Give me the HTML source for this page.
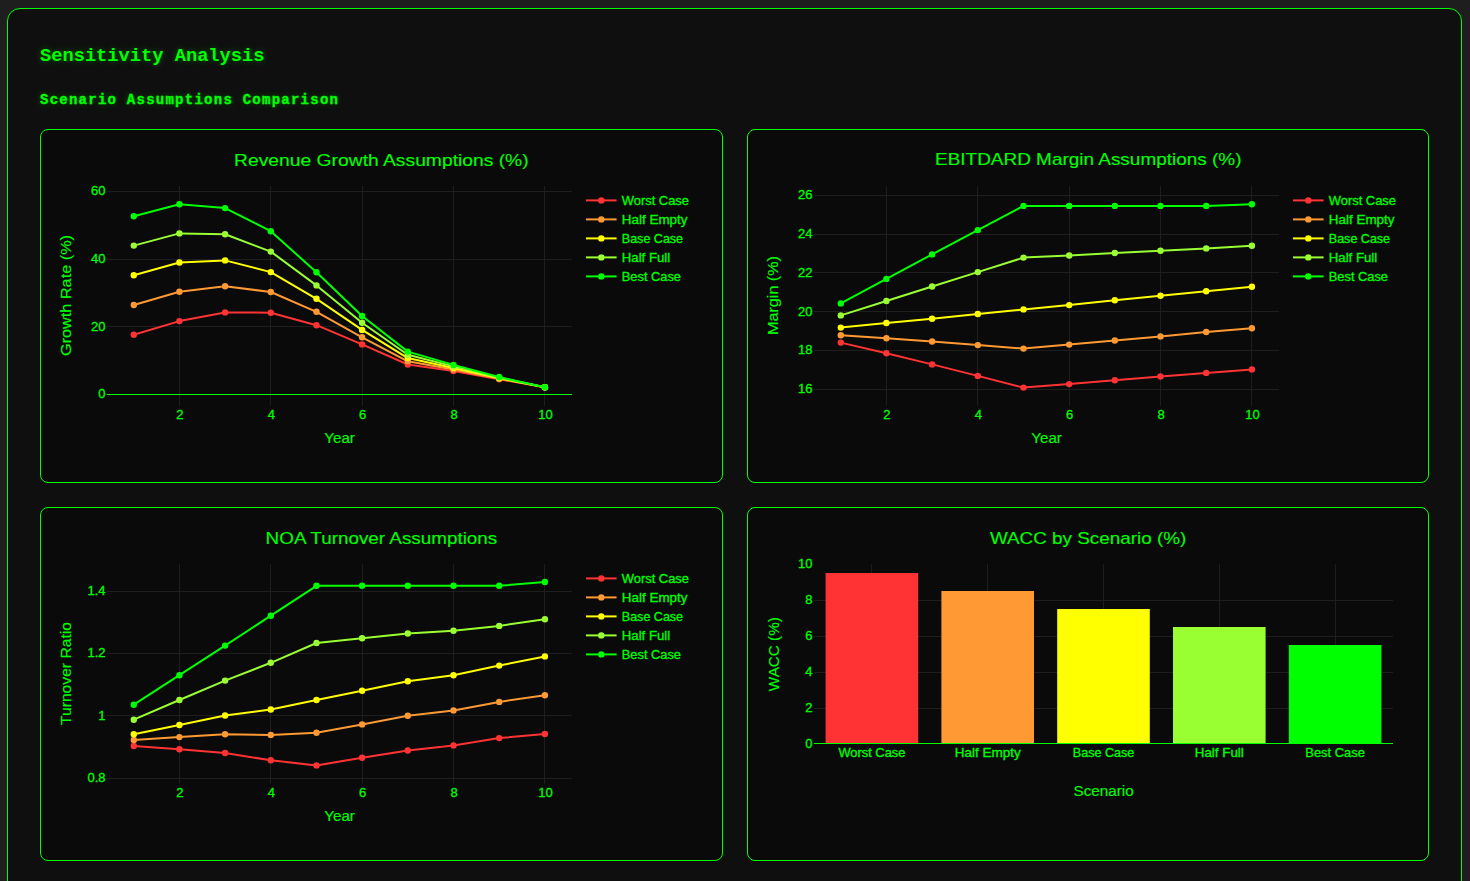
<!DOCTYPE html>
<html><head><meta charset="utf-8"><title>Sensitivity Analysis</title>
<style>
html,body{margin:0;padding:0;width:1470px;height:881px;overflow:hidden;background:#1e1e1e;}
.wrap{position:absolute;left:7px;top:8px;width:1453px;height:1000px;border:1px solid #00ff00;border-radius:13px;background:#0f0f0f;}
.card{position:absolute;border:1px solid #00ff00;border-radius:8px;background:#0a0a0a;width:681px;height:352px;}
svg text{stroke:#00ff00;stroke-width:0.3px;}
svg text[font-size="14"],svg text[font-size="17"]{stroke-width:0.12px;}
h1,h2{position:absolute;margin:0;font-family:'Liberation Mono',monospace;font-weight:bold;color:#00ff00;text-shadow:0 0 6px rgba(0,255,0,0.35);white-space:nowrap;}
h1{left:40px;top:44px;font-size:18.72px;line-height:24px;}
h2{left:40px;top:90px;font-size:14px;letter-spacing:1.25px;line-height:20px;-webkit-text-stroke:0.35px #00ff00;}
</style></head><body>
<div class="wrap"></div>
<h1>Sensitivity Analysis</h1>
<h2>Scenario Assumptions Comparison</h2>
<div class="card" style="left:40px;top:129px"></div>
<div class="card" style="left:747px;top:129px;width:680px"></div>
<div class="card" style="left:40px;top:507px"></div>
<div class="card" style="left:747px;top:507px;width:680px"></div>
<svg width="1470" height="881" viewBox="0 0 1470 881" style="position:absolute;left:0;top:0" fill="#00ff00">
<g style="font-family:'Liberation Sans',sans-serif" fill="#00ff00">
<text x="234.1" y="165.7" font-size="17" text-anchor="start" textLength="294.6" lengthAdjust="spacingAndGlyphs">Revenue Growth Assumptions (%)</text>
<text x="935.0" y="165.4" font-size="17" text-anchor="start" textLength="306.5" lengthAdjust="spacingAndGlyphs">EBITDARD Margin Assumptions (%)</text>
<text x="265.6" y="543.6" font-size="17" text-anchor="start" textLength="231.7" lengthAdjust="spacingAndGlyphs">NOA Turnover Assumptions</text>
<text x="989.9" y="543.6" font-size="17" text-anchor="start" textLength="196.4" lengthAdjust="spacingAndGlyphs">WACC by Scenario (%)</text>
<line x1="179.5" y1="186" x2="179.5" y2="406" stroke="#1e1e1e" stroke-width="1"/>
<line x1="270.5" y1="186" x2="270.5" y2="406" stroke="#1e1e1e" stroke-width="1"/>
<line x1="362.5" y1="186" x2="362.5" y2="406" stroke="#1e1e1e" stroke-width="1"/>
<line x1="453.5" y1="186" x2="453.5" y2="406" stroke="#1e1e1e" stroke-width="1"/>
<line x1="544.5" y1="186" x2="544.5" y2="406" stroke="#1e1e1e" stroke-width="1"/>
<line x1="107" y1="191.5" x2="572" y2="191.5" stroke="#1e1e1e" stroke-width="1"/>
<line x1="107" y1="259.5" x2="572" y2="259.5" stroke="#1e1e1e" stroke-width="1"/>
<line x1="107" y1="326.5" x2="572" y2="326.5" stroke="#1e1e1e" stroke-width="1"/>
<line x1="107" y1="394.5" x2="572" y2="394.5" stroke="#00ff00" stroke-width="1"/>
<polyline points="133.8,334.7 179.4,321.1 225.1,312.4 270.8,312.7 316.5,325.2 362.1,344.4 407.8,364.5 453.5,371.0 499.2,379.3 544.9,387.2" fill="none" stroke="#ff3333" stroke-width="2" stroke-linejoin="round"/>
<circle cx="133.8" cy="334.7" r="3.2" fill="#ff3333"/>
<circle cx="179.4" cy="321.1" r="3.2" fill="#ff3333"/>
<circle cx="225.1" cy="312.4" r="3.2" fill="#ff3333"/>
<circle cx="270.8" cy="312.7" r="3.2" fill="#ff3333"/>
<circle cx="316.5" cy="325.2" r="3.2" fill="#ff3333"/>
<circle cx="362.1" cy="344.4" r="3.2" fill="#ff3333"/>
<circle cx="407.8" cy="364.5" r="3.2" fill="#ff3333"/>
<circle cx="453.5" cy="371.0" r="3.2" fill="#ff3333"/>
<circle cx="499.2" cy="379.3" r="3.2" fill="#ff3333"/>
<circle cx="544.9" cy="387.2" r="3.2" fill="#ff3333"/>
<polyline points="133.8,305.0 179.4,291.7 225.1,286.2 270.8,292.0 316.5,311.8 362.1,337.3 407.8,361.3 453.5,369.5 499.2,378.7 544.9,387.2" fill="none" stroke="#ff9933" stroke-width="2" stroke-linejoin="round"/>
<circle cx="133.8" cy="305.0" r="3.2" fill="#ff9933"/>
<circle cx="179.4" cy="291.7" r="3.2" fill="#ff9933"/>
<circle cx="225.1" cy="286.2" r="3.2" fill="#ff9933"/>
<circle cx="270.8" cy="292.0" r="3.2" fill="#ff9933"/>
<circle cx="316.5" cy="311.8" r="3.2" fill="#ff9933"/>
<circle cx="362.1" cy="337.3" r="3.2" fill="#ff9933"/>
<circle cx="407.8" cy="361.3" r="3.2" fill="#ff9933"/>
<circle cx="453.5" cy="369.5" r="3.2" fill="#ff9933"/>
<circle cx="499.2" cy="378.7" r="3.2" fill="#ff9933"/>
<circle cx="544.9" cy="387.2" r="3.2" fill="#ff9933"/>
<polyline points="133.8,275.3 179.4,262.5 225.1,260.4 270.8,272.1 316.5,298.8 362.1,329.9 407.8,358.1 453.5,367.9 499.2,378.1 544.9,387.2" fill="none" stroke="#ffff00" stroke-width="2" stroke-linejoin="round"/>
<circle cx="133.8" cy="275.3" r="3.2" fill="#ffff00"/>
<circle cx="179.4" cy="262.5" r="3.2" fill="#ffff00"/>
<circle cx="225.1" cy="260.4" r="3.2" fill="#ffff00"/>
<circle cx="270.8" cy="272.1" r="3.2" fill="#ffff00"/>
<circle cx="316.5" cy="298.8" r="3.2" fill="#ffff00"/>
<circle cx="362.1" cy="329.9" r="3.2" fill="#ffff00"/>
<circle cx="407.8" cy="358.1" r="3.2" fill="#ffff00"/>
<circle cx="453.5" cy="367.9" r="3.2" fill="#ffff00"/>
<circle cx="499.2" cy="378.1" r="3.2" fill="#ffff00"/>
<circle cx="544.9" cy="387.2" r="3.2" fill="#ffff00"/>
<polyline points="133.8,245.6 179.4,233.4 225.1,234.2 270.8,251.6 316.5,285.4 362.1,322.8 407.8,354.8 453.5,366.4 499.2,377.6 544.9,387.2" fill="none" stroke="#99ff33" stroke-width="2" stroke-linejoin="round"/>
<circle cx="133.8" cy="245.6" r="3.2" fill="#99ff33"/>
<circle cx="179.4" cy="233.4" r="3.2" fill="#99ff33"/>
<circle cx="225.1" cy="234.2" r="3.2" fill="#99ff33"/>
<circle cx="270.8" cy="251.6" r="3.2" fill="#99ff33"/>
<circle cx="316.5" cy="285.4" r="3.2" fill="#99ff33"/>
<circle cx="362.1" cy="322.8" r="3.2" fill="#99ff33"/>
<circle cx="407.8" cy="354.8" r="3.2" fill="#99ff33"/>
<circle cx="453.5" cy="366.4" r="3.2" fill="#99ff33"/>
<circle cx="499.2" cy="377.6" r="3.2" fill="#99ff33"/>
<circle cx="544.9" cy="387.2" r="3.2" fill="#99ff33"/>
<polyline points="133.8,216.2 179.4,204.2 225.1,208.1 270.8,231.2 316.5,272.3 362.1,316.0 407.8,351.6 453.5,364.9 499.2,377.0 544.9,387.2" fill="none" stroke="#00ff00" stroke-width="2" stroke-linejoin="round"/>
<circle cx="133.8" cy="216.2" r="3.2" fill="#00ff00"/>
<circle cx="179.4" cy="204.2" r="3.2" fill="#00ff00"/>
<circle cx="225.1" cy="208.1" r="3.2" fill="#00ff00"/>
<circle cx="270.8" cy="231.2" r="3.2" fill="#00ff00"/>
<circle cx="316.5" cy="272.3" r="3.2" fill="#00ff00"/>
<circle cx="362.1" cy="316.0" r="3.2" fill="#00ff00"/>
<circle cx="407.8" cy="351.6" r="3.2" fill="#00ff00"/>
<circle cx="453.5" cy="364.9" r="3.2" fill="#00ff00"/>
<circle cx="499.2" cy="377.0" r="3.2" fill="#00ff00"/>
<circle cx="544.9" cy="387.2" r="3.2" fill="#00ff00"/>
<text x="105.5" y="195.3" font-size="13" text-anchor="end">60</text>
<text x="105.5" y="263.0" font-size="13" text-anchor="end">40</text>
<text x="105.5" y="330.7" font-size="13" text-anchor="end">20</text>
<text x="105.5" y="398.3" font-size="13" text-anchor="end">0</text>
<text x="179.9" y="419.0" font-size="13" text-anchor="middle">2</text>
<text x="271.3" y="419.0" font-size="13" text-anchor="middle">4</text>
<text x="362.6" y="419.0" font-size="13" text-anchor="middle">6</text>
<text x="454.0" y="419.0" font-size="13" text-anchor="middle">8</text>
<text x="545.4" y="419.0" font-size="13" text-anchor="middle">10</text>
<text x="339.6" y="442.9" font-size="14" text-anchor="middle" textLength="30.6" lengthAdjust="spacingAndGlyphs">Year</text>
<text transform="translate(71.4,295.5) rotate(-90)" x="0" y="0" font-size="14" text-anchor="middle" textLength="121" lengthAdjust="spacingAndGlyphs">Growth Rate (%)</text>
<line x1="586" y1="200.4" x2="616.6" y2="200.4" stroke="#ff3333" stroke-width="2"/>
<circle cx="601.3" cy="200.4" r="3.2" fill="#ff3333"/>
<text x="621.8" y="204.9" font-size="13" text-anchor="start" textLength="67.2" lengthAdjust="spacingAndGlyphs">Worst Case</text>
<line x1="586" y1="219.4" x2="616.6" y2="219.4" stroke="#ff9933" stroke-width="2"/>
<circle cx="601.3" cy="219.4" r="3.2" fill="#ff9933"/>
<text x="621.8" y="223.9" font-size="13" text-anchor="start" textLength="65.7" lengthAdjust="spacingAndGlyphs">Half Empty</text>
<line x1="586" y1="238.4" x2="616.6" y2="238.4" stroke="#ffff00" stroke-width="2"/>
<circle cx="601.3" cy="238.4" r="3.2" fill="#ffff00"/>
<text x="621.8" y="242.9" font-size="13" text-anchor="start" textLength="61.3" lengthAdjust="spacingAndGlyphs">Base Case</text>
<line x1="586" y1="257.4" x2="616.6" y2="257.4" stroke="#99ff33" stroke-width="2"/>
<circle cx="601.3" cy="257.4" r="3.2" fill="#99ff33"/>
<text x="621.8" y="261.9" font-size="13" text-anchor="start" textLength="48.4" lengthAdjust="spacingAndGlyphs">Half Full</text>
<line x1="586" y1="276.4" x2="616.6" y2="276.4" stroke="#00ff00" stroke-width="2"/>
<circle cx="601.3" cy="276.4" r="3.2" fill="#00ff00"/>
<text x="621.8" y="280.9" font-size="13" text-anchor="start" textLength="59.2" lengthAdjust="spacingAndGlyphs">Best Case</text>
<line x1="886.5" y1="186" x2="886.5" y2="406" stroke="#1e1e1e" stroke-width="1"/>
<line x1="977.5" y1="186" x2="977.5" y2="406" stroke="#1e1e1e" stroke-width="1"/>
<line x1="1069.5" y1="186" x2="1069.5" y2="406" stroke="#1e1e1e" stroke-width="1"/>
<line x1="1160.5" y1="186" x2="1160.5" y2="406" stroke="#1e1e1e" stroke-width="1"/>
<line x1="1251.5" y1="186" x2="1251.5" y2="406" stroke="#1e1e1e" stroke-width="1"/>
<line x1="814" y1="195.5" x2="1279" y2="195.5" stroke="#1e1e1e" stroke-width="1"/>
<line x1="814" y1="234.5" x2="1279" y2="234.5" stroke="#1e1e1e" stroke-width="1"/>
<line x1="814" y1="272.5" x2="1279" y2="272.5" stroke="#1e1e1e" stroke-width="1"/>
<line x1="814" y1="311.5" x2="1279" y2="311.5" stroke="#1e1e1e" stroke-width="1"/>
<line x1="814" y1="350.5" x2="1279" y2="350.5" stroke="#1e1e1e" stroke-width="1"/>
<line x1="814" y1="389.5" x2="1279" y2="389.5" stroke="#1e1e1e" stroke-width="1"/>
<polyline points="840.8,342.6 886.4,353.3 932.1,364.4 977.8,375.9 1023.5,387.6 1069.2,384.1 1114.8,380.3 1160.5,376.5 1206.2,372.9 1251.9,369.4" fill="none" stroke="#ff3333" stroke-width="2" stroke-linejoin="round"/>
<circle cx="840.8" cy="342.6" r="3.2" fill="#ff3333"/>
<circle cx="886.4" cy="353.3" r="3.2" fill="#ff3333"/>
<circle cx="932.1" cy="364.4" r="3.2" fill="#ff3333"/>
<circle cx="977.8" cy="375.9" r="3.2" fill="#ff3333"/>
<circle cx="1023.5" cy="387.6" r="3.2" fill="#ff3333"/>
<circle cx="1069.2" cy="384.1" r="3.2" fill="#ff3333"/>
<circle cx="1114.8" cy="380.3" r="3.2" fill="#ff3333"/>
<circle cx="1160.5" cy="376.5" r="3.2" fill="#ff3333"/>
<circle cx="1206.2" cy="372.9" r="3.2" fill="#ff3333"/>
<circle cx="1251.9" cy="369.4" r="3.2" fill="#ff3333"/>
<polyline points="840.8,335.3 886.4,338.3 932.1,341.5 977.8,345.1 1023.5,348.6 1069.2,344.6 1114.8,340.5 1160.5,336.4 1206.2,332.0 1251.9,328.2" fill="none" stroke="#ff9933" stroke-width="2" stroke-linejoin="round"/>
<circle cx="840.8" cy="335.3" r="3.2" fill="#ff9933"/>
<circle cx="886.4" cy="338.3" r="3.2" fill="#ff9933"/>
<circle cx="932.1" cy="341.5" r="3.2" fill="#ff9933"/>
<circle cx="977.8" cy="345.1" r="3.2" fill="#ff9933"/>
<circle cx="1023.5" cy="348.6" r="3.2" fill="#ff9933"/>
<circle cx="1069.2" cy="344.6" r="3.2" fill="#ff9933"/>
<circle cx="1114.8" cy="340.5" r="3.2" fill="#ff9933"/>
<circle cx="1160.5" cy="336.4" r="3.2" fill="#ff9933"/>
<circle cx="1206.2" cy="332.0" r="3.2" fill="#ff9933"/>
<circle cx="1251.9" cy="328.2" r="3.2" fill="#ff9933"/>
<polyline points="840.8,327.6 886.4,323.0 932.1,318.7 977.8,314.0 1023.5,309.4 1069.2,305.1 1114.8,300.2 1160.5,295.8 1206.2,291.2 1251.9,286.8" fill="none" stroke="#ffff00" stroke-width="2" stroke-linejoin="round"/>
<circle cx="840.8" cy="327.6" r="3.2" fill="#ffff00"/>
<circle cx="886.4" cy="323.0" r="3.2" fill="#ffff00"/>
<circle cx="932.1" cy="318.7" r="3.2" fill="#ffff00"/>
<circle cx="977.8" cy="314.0" r="3.2" fill="#ffff00"/>
<circle cx="1023.5" cy="309.4" r="3.2" fill="#ffff00"/>
<circle cx="1069.2" cy="305.1" r="3.2" fill="#ffff00"/>
<circle cx="1114.8" cy="300.2" r="3.2" fill="#ffff00"/>
<circle cx="1160.5" cy="295.8" r="3.2" fill="#ffff00"/>
<circle cx="1206.2" cy="291.2" r="3.2" fill="#ffff00"/>
<circle cx="1251.9" cy="286.8" r="3.2" fill="#ffff00"/>
<polyline points="840.8,315.4 886.4,301.0 932.1,286.5 977.8,272.1 1023.5,257.6 1069.2,255.5 1114.8,253.0 1160.5,250.8 1206.2,248.4 1251.9,245.7" fill="none" stroke="#99ff33" stroke-width="2" stroke-linejoin="round"/>
<circle cx="840.8" cy="315.4" r="3.2" fill="#99ff33"/>
<circle cx="886.4" cy="301.0" r="3.2" fill="#99ff33"/>
<circle cx="932.1" cy="286.5" r="3.2" fill="#99ff33"/>
<circle cx="977.8" cy="272.1" r="3.2" fill="#99ff33"/>
<circle cx="1023.5" cy="257.6" r="3.2" fill="#99ff33"/>
<circle cx="1069.2" cy="255.5" r="3.2" fill="#99ff33"/>
<circle cx="1114.8" cy="253.0" r="3.2" fill="#99ff33"/>
<circle cx="1160.5" cy="250.8" r="3.2" fill="#99ff33"/>
<circle cx="1206.2" cy="248.4" r="3.2" fill="#99ff33"/>
<circle cx="1251.9" cy="245.7" r="3.2" fill="#99ff33"/>
<polyline points="840.8,303.4 886.4,278.9 932.1,254.4 977.8,230.1 1023.5,205.9 1069.2,205.9 1114.8,205.9 1160.5,205.9 1206.2,205.9 1251.9,204.3" fill="none" stroke="#00ff00" stroke-width="2" stroke-linejoin="round"/>
<circle cx="840.8" cy="303.4" r="3.2" fill="#00ff00"/>
<circle cx="886.4" cy="278.9" r="3.2" fill="#00ff00"/>
<circle cx="932.1" cy="254.4" r="3.2" fill="#00ff00"/>
<circle cx="977.8" cy="230.1" r="3.2" fill="#00ff00"/>
<circle cx="1023.5" cy="205.9" r="3.2" fill="#00ff00"/>
<circle cx="1069.2" cy="205.9" r="3.2" fill="#00ff00"/>
<circle cx="1114.8" cy="205.9" r="3.2" fill="#00ff00"/>
<circle cx="1160.5" cy="205.9" r="3.2" fill="#00ff00"/>
<circle cx="1206.2" cy="205.9" r="3.2" fill="#00ff00"/>
<circle cx="1251.9" cy="204.3" r="3.2" fill="#00ff00"/>
<text x="812.5" y="199.2" font-size="13" text-anchor="end">26</text>
<text x="812.5" y="238.0" font-size="13" text-anchor="end">24</text>
<text x="812.5" y="276.8" font-size="13" text-anchor="end">22</text>
<text x="812.5" y="315.5" font-size="13" text-anchor="end">20</text>
<text x="812.5" y="354.3" font-size="13" text-anchor="end">18</text>
<text x="812.5" y="393.1" font-size="13" text-anchor="end">16</text>
<text x="886.9" y="419.0" font-size="13" text-anchor="middle">2</text>
<text x="978.3" y="419.0" font-size="13" text-anchor="middle">4</text>
<text x="1069.7" y="419.0" font-size="13" text-anchor="middle">6</text>
<text x="1161.0" y="419.0" font-size="13" text-anchor="middle">8</text>
<text x="1252.4" y="419.0" font-size="13" text-anchor="middle">10</text>
<text x="1046.6" y="442.9" font-size="14" text-anchor="middle" textLength="30.6" lengthAdjust="spacingAndGlyphs">Year</text>
<text transform="translate(778.4,295.5) rotate(-90)" x="0" y="0" font-size="14" text-anchor="middle" textLength="79" lengthAdjust="spacingAndGlyphs">Margin (%)</text>
<line x1="1293" y1="200.4" x2="1323.6" y2="200.4" stroke="#ff3333" stroke-width="2"/>
<circle cx="1308.3" cy="200.4" r="3.2" fill="#ff3333"/>
<text x="1328.8" y="204.9" font-size="13" text-anchor="start" textLength="67.2" lengthAdjust="spacingAndGlyphs">Worst Case</text>
<line x1="1293" y1="219.4" x2="1323.6" y2="219.4" stroke="#ff9933" stroke-width="2"/>
<circle cx="1308.3" cy="219.4" r="3.2" fill="#ff9933"/>
<text x="1328.8" y="223.9" font-size="13" text-anchor="start" textLength="65.7" lengthAdjust="spacingAndGlyphs">Half Empty</text>
<line x1="1293" y1="238.4" x2="1323.6" y2="238.4" stroke="#ffff00" stroke-width="2"/>
<circle cx="1308.3" cy="238.4" r="3.2" fill="#ffff00"/>
<text x="1328.8" y="242.9" font-size="13" text-anchor="start" textLength="61.3" lengthAdjust="spacingAndGlyphs">Base Case</text>
<line x1="1293" y1="257.4" x2="1323.6" y2="257.4" stroke="#99ff33" stroke-width="2"/>
<circle cx="1308.3" cy="257.4" r="3.2" fill="#99ff33"/>
<text x="1328.8" y="261.9" font-size="13" text-anchor="start" textLength="48.4" lengthAdjust="spacingAndGlyphs">Half Full</text>
<line x1="1293" y1="276.4" x2="1323.6" y2="276.4" stroke="#00ff00" stroke-width="2"/>
<circle cx="1308.3" cy="276.4" r="3.2" fill="#00ff00"/>
<text x="1328.8" y="280.9" font-size="13" text-anchor="start" textLength="59.2" lengthAdjust="spacingAndGlyphs">Best Case</text>
<line x1="179.5" y1="564" x2="179.5" y2="784" stroke="#1e1e1e" stroke-width="1"/>
<line x1="270.5" y1="564" x2="270.5" y2="784" stroke="#1e1e1e" stroke-width="1"/>
<line x1="362.5" y1="564" x2="362.5" y2="784" stroke="#1e1e1e" stroke-width="1"/>
<line x1="453.5" y1="564" x2="453.5" y2="784" stroke="#1e1e1e" stroke-width="1"/>
<line x1="544.5" y1="564" x2="544.5" y2="784" stroke="#1e1e1e" stroke-width="1"/>
<line x1="107" y1="591.5" x2="572" y2="591.5" stroke="#1e1e1e" stroke-width="1"/>
<line x1="107" y1="653.5" x2="572" y2="653.5" stroke="#1e1e1e" stroke-width="1"/>
<line x1="107" y1="715.5" x2="572" y2="715.5" stroke="#1e1e1e" stroke-width="1"/>
<line x1="107" y1="778.5" x2="572" y2="778.5" stroke="#1e1e1e" stroke-width="1"/>
<polyline points="133.8,746.0 179.4,749.2 225.1,753.0 270.8,760.3 316.5,765.4 362.1,757.8 407.8,750.5 453.5,745.4 499.2,738.1 544.9,734.0" fill="none" stroke="#ff3333" stroke-width="2" stroke-linejoin="round"/>
<circle cx="133.8" cy="746.0" r="3.2" fill="#ff3333"/>
<circle cx="179.4" cy="749.2" r="3.2" fill="#ff3333"/>
<circle cx="225.1" cy="753.0" r="3.2" fill="#ff3333"/>
<circle cx="270.8" cy="760.3" r="3.2" fill="#ff3333"/>
<circle cx="316.5" cy="765.4" r="3.2" fill="#ff3333"/>
<circle cx="362.1" cy="757.8" r="3.2" fill="#ff3333"/>
<circle cx="407.8" cy="750.5" r="3.2" fill="#ff3333"/>
<circle cx="453.5" cy="745.4" r="3.2" fill="#ff3333"/>
<circle cx="499.2" cy="738.1" r="3.2" fill="#ff3333"/>
<circle cx="544.9" cy="734.0" r="3.2" fill="#ff3333"/>
<polyline points="133.8,740.0 179.4,737.1 225.1,734.3 270.8,734.9 316.5,732.7 362.1,724.4 407.8,715.8 453.5,710.4 499.2,701.9 544.9,695.2" fill="none" stroke="#ff9933" stroke-width="2" stroke-linejoin="round"/>
<circle cx="133.8" cy="740.0" r="3.2" fill="#ff9933"/>
<circle cx="179.4" cy="737.1" r="3.2" fill="#ff9933"/>
<circle cx="225.1" cy="734.3" r="3.2" fill="#ff9933"/>
<circle cx="270.8" cy="734.9" r="3.2" fill="#ff9933"/>
<circle cx="316.5" cy="732.7" r="3.2" fill="#ff9933"/>
<circle cx="362.1" cy="724.4" r="3.2" fill="#ff9933"/>
<circle cx="407.8" cy="715.8" r="3.2" fill="#ff9933"/>
<circle cx="453.5" cy="710.4" r="3.2" fill="#ff9933"/>
<circle cx="499.2" cy="701.9" r="3.2" fill="#ff9933"/>
<circle cx="544.9" cy="695.2" r="3.2" fill="#ff9933"/>
<polyline points="133.8,734.3 179.4,725.0 225.1,715.5 270.8,709.5 316.5,700.0 362.1,690.7 407.8,681.2 453.5,675.2 499.2,665.6 544.9,656.4" fill="none" stroke="#ffff00" stroke-width="2" stroke-linejoin="round"/>
<circle cx="133.8" cy="734.3" r="3.2" fill="#ffff00"/>
<circle cx="179.4" cy="725.0" r="3.2" fill="#ffff00"/>
<circle cx="225.1" cy="715.5" r="3.2" fill="#ffff00"/>
<circle cx="270.8" cy="709.5" r="3.2" fill="#ffff00"/>
<circle cx="316.5" cy="700.0" r="3.2" fill="#ffff00"/>
<circle cx="362.1" cy="690.7" r="3.2" fill="#ffff00"/>
<circle cx="407.8" cy="681.2" r="3.2" fill="#ffff00"/>
<circle cx="453.5" cy="675.2" r="3.2" fill="#ffff00"/>
<circle cx="499.2" cy="665.6" r="3.2" fill="#ffff00"/>
<circle cx="544.9" cy="656.4" r="3.2" fill="#ffff00"/>
<polyline points="133.8,719.7 179.4,700.0 225.1,680.6 270.8,662.8 316.5,643.0 362.1,638.3 407.8,633.5 453.5,630.7 499.2,625.9 544.9,619.2" fill="none" stroke="#99ff33" stroke-width="2" stroke-linejoin="round"/>
<circle cx="133.8" cy="719.7" r="3.2" fill="#99ff33"/>
<circle cx="179.4" cy="700.0" r="3.2" fill="#99ff33"/>
<circle cx="225.1" cy="680.6" r="3.2" fill="#99ff33"/>
<circle cx="270.8" cy="662.8" r="3.2" fill="#99ff33"/>
<circle cx="316.5" cy="643.0" r="3.2" fill="#99ff33"/>
<circle cx="362.1" cy="638.3" r="3.2" fill="#99ff33"/>
<circle cx="407.8" cy="633.5" r="3.2" fill="#99ff33"/>
<circle cx="453.5" cy="630.7" r="3.2" fill="#99ff33"/>
<circle cx="499.2" cy="625.9" r="3.2" fill="#99ff33"/>
<circle cx="544.9" cy="619.2" r="3.2" fill="#99ff33"/>
<polyline points="133.8,704.7 179.4,675.2 225.1,645.6 270.8,615.7 316.5,585.8 362.1,585.8 407.8,585.8 453.5,585.8 499.2,585.8 544.9,582.0" fill="none" stroke="#00ff00" stroke-width="2" stroke-linejoin="round"/>
<circle cx="133.8" cy="704.7" r="3.2" fill="#00ff00"/>
<circle cx="179.4" cy="675.2" r="3.2" fill="#00ff00"/>
<circle cx="225.1" cy="645.6" r="3.2" fill="#00ff00"/>
<circle cx="270.8" cy="615.7" r="3.2" fill="#00ff00"/>
<circle cx="316.5" cy="585.8" r="3.2" fill="#00ff00"/>
<circle cx="362.1" cy="585.8" r="3.2" fill="#00ff00"/>
<circle cx="407.8" cy="585.8" r="3.2" fill="#00ff00"/>
<circle cx="453.5" cy="585.8" r="3.2" fill="#00ff00"/>
<circle cx="499.2" cy="585.8" r="3.2" fill="#00ff00"/>
<circle cx="544.9" cy="582.0" r="3.2" fill="#00ff00"/>
<text x="105.5" y="594.9" font-size="13" text-anchor="end">1.4</text>
<text x="105.5" y="657.3" font-size="13" text-anchor="end">1.2</text>
<text x="105.5" y="719.7" font-size="13" text-anchor="end">1</text>
<text x="105.5" y="782.2" font-size="13" text-anchor="end">0.8</text>
<text x="179.9" y="797.0" font-size="13" text-anchor="middle">2</text>
<text x="271.3" y="797.0" font-size="13" text-anchor="middle">4</text>
<text x="362.6" y="797.0" font-size="13" text-anchor="middle">6</text>
<text x="454.0" y="797.0" font-size="13" text-anchor="middle">8</text>
<text x="545.4" y="797.0" font-size="13" text-anchor="middle">10</text>
<text x="339.6" y="820.9" font-size="14" text-anchor="middle" textLength="30.6" lengthAdjust="spacingAndGlyphs">Year</text>
<text transform="translate(71.4,673.5) rotate(-90)" x="0" y="0" font-size="14" text-anchor="middle" textLength="103" lengthAdjust="spacingAndGlyphs">Turnover Ratio</text>
<line x1="586" y1="578.4" x2="616.6" y2="578.4" stroke="#ff3333" stroke-width="2"/>
<circle cx="601.3" cy="578.4" r="3.2" fill="#ff3333"/>
<text x="621.8" y="582.9" font-size="13" text-anchor="start" textLength="67.2" lengthAdjust="spacingAndGlyphs">Worst Case</text>
<line x1="586" y1="597.4" x2="616.6" y2="597.4" stroke="#ff9933" stroke-width="2"/>
<circle cx="601.3" cy="597.4" r="3.2" fill="#ff9933"/>
<text x="621.8" y="601.9" font-size="13" text-anchor="start" textLength="65.7" lengthAdjust="spacingAndGlyphs">Half Empty</text>
<line x1="586" y1="616.4" x2="616.6" y2="616.4" stroke="#ffff00" stroke-width="2"/>
<circle cx="601.3" cy="616.4" r="3.2" fill="#ffff00"/>
<text x="621.8" y="620.9" font-size="13" text-anchor="start" textLength="61.3" lengthAdjust="spacingAndGlyphs">Base Case</text>
<line x1="586" y1="635.4" x2="616.6" y2="635.4" stroke="#99ff33" stroke-width="2"/>
<circle cx="601.3" cy="635.4" r="3.2" fill="#99ff33"/>
<text x="621.8" y="639.9" font-size="13" text-anchor="start" textLength="48.4" lengthAdjust="spacingAndGlyphs">Half Full</text>
<line x1="586" y1="654.4" x2="616.6" y2="654.4" stroke="#00ff00" stroke-width="2"/>
<circle cx="601.3" cy="654.4" r="3.2" fill="#00ff00"/>
<text x="621.8" y="658.9" font-size="13" text-anchor="start" textLength="59.2" lengthAdjust="spacingAndGlyphs">Best Case</text>
<line x1="871.5" y1="564" x2="871.5" y2="744" stroke="#1e1e1e" stroke-width="1"/>
<line x1="987.5" y1="564" x2="987.5" y2="744" stroke="#1e1e1e" stroke-width="1"/>
<line x1="1103.5" y1="564" x2="1103.5" y2="744" stroke="#1e1e1e" stroke-width="1"/>
<line x1="1219.5" y1="564" x2="1219.5" y2="744" stroke="#1e1e1e" stroke-width="1"/>
<line x1="1335.5" y1="564" x2="1335.5" y2="744" stroke="#1e1e1e" stroke-width="1"/>
<line x1="814" y1="708.5" x2="1393" y2="708.5" stroke="#1e1e1e" stroke-width="1"/>
<line x1="814" y1="672.5" x2="1393" y2="672.5" stroke="#1e1e1e" stroke-width="1"/>
<line x1="814" y1="636.5" x2="1393" y2="636.5" stroke="#1e1e1e" stroke-width="1"/>
<line x1="814" y1="600.5" x2="1393" y2="600.5" stroke="#1e1e1e" stroke-width="1"/>
<rect x="825.6" y="573.0" width="92.6" height="171.0" fill="#ff3333"/>
<rect x="941.4" y="591.0" width="92.6" height="153.0" fill="#ff9933"/>
<rect x="1057.2" y="609.0" width="92.6" height="135.0" fill="#ffff00"/>
<rect x="1173.0" y="627.0" width="92.6" height="117.0" fill="#99ff33"/>
<rect x="1288.8" y="645.0" width="92.6" height="99.0" fill="#00ff00"/>
<line x1="814" y1="743.5" x2="1393" y2="743.5" stroke="#00ff00" stroke-width="1"/>
<text x="812.5" y="747.9" font-size="13" text-anchor="end">0</text>
<text x="812.5" y="711.9" font-size="13" text-anchor="end">2</text>
<text x="812.5" y="675.9" font-size="13" text-anchor="end">4</text>
<text x="812.5" y="639.9" font-size="13" text-anchor="end">6</text>
<text x="812.5" y="603.9" font-size="13" text-anchor="end">8</text>
<text x="812.5" y="567.9" font-size="13" text-anchor="end">10</text>
<text x="871.9" y="756.8" font-size="13" text-anchor="middle" textLength="67.0" lengthAdjust="spacingAndGlyphs">Worst Case</text>
<text x="987.7" y="756.8" font-size="13" text-anchor="middle" textLength="66.0" lengthAdjust="spacingAndGlyphs">Half Empty</text>
<text x="1103.5" y="756.8" font-size="13" text-anchor="middle" textLength="61.5" lengthAdjust="spacingAndGlyphs">Base Case</text>
<text x="1219.3" y="756.8" font-size="13" text-anchor="middle" textLength="49.0" lengthAdjust="spacingAndGlyphs">Half Full</text>
<text x="1335.1" y="756.8" font-size="13" text-anchor="middle" textLength="59.5" lengthAdjust="spacingAndGlyphs">Best Case</text>
<text x="1103.6" y="796.0" font-size="14" text-anchor="middle" textLength="60.0" lengthAdjust="spacingAndGlyphs">Scenario</text>
<text transform="translate(778.6,654.2) rotate(-90)" x="0" y="0" font-size="14" text-anchor="middle" textLength="74" lengthAdjust="spacingAndGlyphs">WACC (%)</text>
</g></svg>
</body></html>
